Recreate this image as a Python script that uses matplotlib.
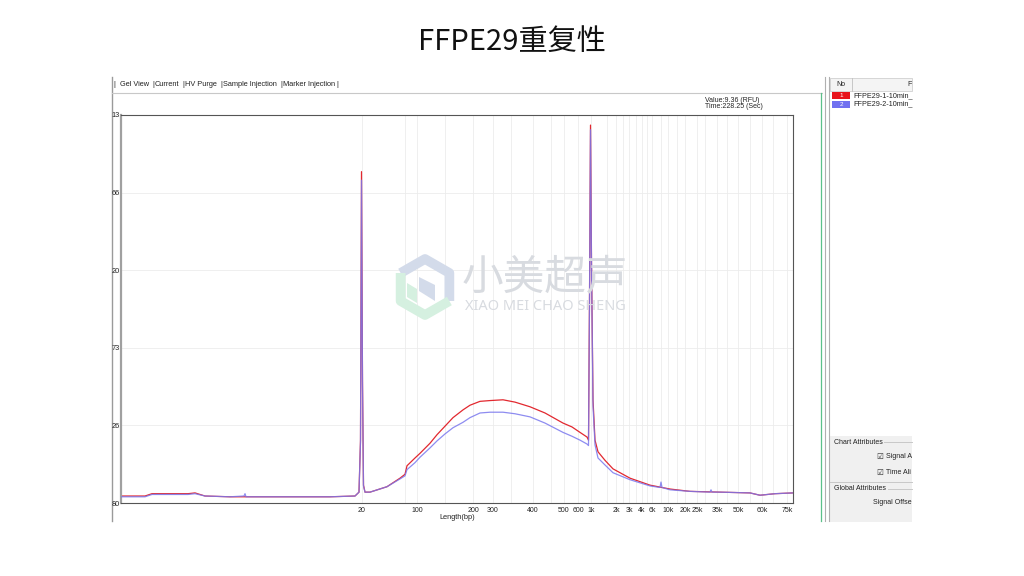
import matplotlib
matplotlib.use('Agg')
import matplotlib.pyplot as plt
from matplotlib.patches import Rectangle, Polygon

# x is migration position along the trace, y is signal in label steps
tick_pos = [241, 296, 352, 372, 412, 443, 457, 470, 495, 508, 521, 531, 547, 564, 576, 596, 617, 641, 666]
tick_labels = ['20', '100', '200', '300', '400', '500', '600', '1k', '2k', '3k', '4k', '6k', '10k',
               '20k', '25k', '35k', '50k', '60k', '75k']
grid_extra = [284, 324, 390, 430, 486, 502, 515, 526, 540, 556, 584, 606, 629, 652]
y_labels = ['80', '26', '73', '20', '66', '13']

red_x = [0, 24, 31, 67, 74, 84, 109, 159, 209, 234, 238, 239.5, 240.5, 241.5, 242.5, 244, 249, 266,
         279, 284, 286, 294, 299, 309, 316, 324, 332, 342, 349, 359, 369, 382, 394, 409, 424, 442, 451,
         459, 466, 467.5, 468.5, 469.5, 470.5, 472, 474, 477, 484, 492, 509, 529, 549, 569, 599, 629,
         639, 654, 672]
red_y = [0.09, 0.09, 0.12, 0.12, 0.13, 0.09, 0.08, 0.08, 0.08, 0.09, 0.14, 0.81, 4.27, 1.58, 0.23, 0.14,
         0.14, 0.21, 0.32, 0.37, 0.48, 0.58, 0.64, 0.77, 0.88, 0.99, 1.10, 1.20, 1.26, 1.31, 1.32, 1.33,
         1.30, 1.24, 1.16, 1.03, 0.98, 0.91, 0.85, 0.81, 2.62, 4.87, 3.13, 1.33, 0.81, 0.66, 0.55, 0.44,
         0.32, 0.23, 0.18, 0.15, 0.14, 0.13, 0.10, 0.12, 0.13]

blue_x = [0, 24, 31, 67, 74, 84, 109, 123, 124, 125, 159, 209, 234, 238, 239.5, 240.5, 241.5, 242.5,
          244, 249, 266, 279, 284, 286, 294, 299, 309, 316, 324, 332, 342, 349, 359, 369, 382, 394, 409,
          424, 442, 451, 459, 466, 467.5, 468.5, 469.5, 470.5, 472, 474, 477, 484, 492, 509, 529, 539,
          540, 541, 549, 569, 589, 590, 591, 599, 629, 639, 654, 672]
blue_y = [0.08, 0.08, 0.11, 0.11, 0.12, 0.09, 0.08, 0.09, 0.12, 0.08, 0.08, 0.08, 0.09, 0.14, 0.78, 4.16,
          1.52, 0.22, 0.14, 0.14, 0.21, 0.31, 0.35, 0.43, 0.52, 0.59, 0.71, 0.80, 0.89, 0.97, 1.04, 1.10,
          1.16, 1.17, 1.17, 1.15, 1.11, 1.03, 0.91, 0.86, 0.81, 0.76, 0.74, 2.55, 4.81, 3.05, 1.25, 0.75,
          0.58, 0.49, 0.39, 0.30, 0.22, 0.20, 0.27, 0.20, 0.17, 0.15, 0.14, 0.17, 0.14, 0.14, 0.13, 0.10,
          0.12, 0.13]

fig = plt.figure(figsize=(10.24, 5.76), dpi=100)
fig.patch.set_facecolor('white')

# background layer in pixel coordinates for the screenshot chrome
bg = fig.add_axes([0, 0, 1, 1], zorder=0)
bg.set_xlim(0, 1024)
bg.set_ylim(576, 0)
bg.axis('off')

fig.text(0.5, 1 - 42 / 576, 'FFPE29重复性', ha='center', va='center', fontsize=21,
         family=['Noto Sans CJK SC', 'DejaVu Sans'], fontweight='light', color='#111111')

ui_font = ['Liberation Sans', 'DejaVu Sans']
bg.plot([112, 112], [77, 521], color='#9a9a9a', lw=1)
bg.plot([112, 822], [93, 93], color='#c8c8c8', lw=0.8)
tabs = [(113, '|'), (120, 'Gel View'), (152, '|'), (155, 'Current'), (182, '|'), (185, 'HV Purge'),
        (220, '|'), (223, 'Sample Injection'), (280, '|'), (283, 'Marker Injection'), (336, '|')]
for tx, lab in tabs:
    bg.text(tx, 85, lab, fontsize=5.3, va='center', ha='left', family=ui_font, color='#222222')
bg.text(705, 100, 'Value:9.36 (RFU)', fontsize=5, va='center', family=ui_font, color='#222222')
bg.text(705, 107, 'Time:228.25 (Sec)', fontsize=5, va='center', family=ui_font, color='#222222')

bg.plot([821, 821], [93, 521], color='#5cc08a', lw=0.9)
bg.plot([825, 825], [77, 521], color='#b0b0b0', lw=0.8)
bg.plot([829, 829], [77, 521], color='#b0b0b0', lw=0.8)
bg.add_patch(Rectangle((830, 78), 82, 13, facecolor='#f4f4f4', edgecolor='#d0d0d0', lw=0.6))
bg.plot([852, 852], [78, 91], color='#c0c0c0', lw=0.6)
bg.text(841, 85, 'No', fontsize=5, va='center', ha='center', family=ui_font, color='#222222')
bg.text(910, 85, 'F', fontsize=5, va='center', ha='center', family=ui_font, color='#222222')
for ry, col, num, name in [(95.5, '#e8141c', '1', 'FFPE29-1-10min_'), (104, '#7070f0', '2', 'FFPE29-2-10min_')]:
    bg.add_patch(Rectangle((832, ry - 3.5), 18, 7, facecolor=col, edgecolor='none'))
    bg.text(841, ry, num, fontsize=4.5, va='center', ha='center', color='white', family=ui_font)
    bg.text(853, ry, name, fontsize=5.2, va='center', ha='left', family=ui_font, color='#222222')

bg.add_patch(Rectangle((830, 436), 82, 86, facecolor='#f0f0f0', edgecolor='none'))
bg.text(834, 442, 'Chart Attributes', fontsize=5, va='center', family=ui_font, color='#222222')
bg.plot([884, 912], [442, 442], color='#c8c8c8', lw=0.7)
bg.text(876, 456, '☑', fontsize=5.5, va='center', family=['DejaVu Sans'], color='#333333')
bg.text(886, 456, 'Signal A', fontsize=5, va='center', family=ui_font, color='#222222')
bg.text(876, 472, '☑', fontsize=5.5, va='center', family=['DejaVu Sans'], color='#333333')
bg.text(886, 472, 'Time Ali', fontsize=5, va='center', family=ui_font, color='#222222')
bg.plot([830, 912], [482, 482], color='#c8c8c8', lw=0.7)
bg.text(834, 489, 'Global Attributes', fontsize=5, va='center', family=ui_font, color='#222222')
bg.plot([888, 912], [489, 489], color='#c8c8c8', lw=0.7)
bg.text(873, 503, 'Signal Offse', fontsize=5, va='center', family=ui_font, color='#222222')

# the electropherogram itself
ax = fig.add_axes([121 / 1024, 1 - 503 / 576, 672 / 1024, 388 / 576], zorder=1)
ax.set_xlim(0, 672)
ax.set_ylim(0, 5)
for gx in tick_pos + grid_extra:
    ax.axvline(gx, color='#ececec', lw=0.6, zorder=0)
for gy in range(1, 5):
    ax.axhline(gy, color='#ececec', lw=0.6, zorder=0)
ax.plot(red_x, red_y, color='#e2282f', lw=0.9, zorder=2)
ax.plot(blue_x, blue_y, color='#7a78ee', lw=0.9, alpha=0.85, zorder=3)

ax.set_xticks(tick_pos)
ax.set_xticklabels(tick_labels, fontsize=5, family=ui_font, color='#222222')
ax.set_yticks(range(6))
ax.set_yticklabels(y_labels, fontsize=5.3, family=ui_font, color='#222222')
ax.tick_params(length=0, pad=3)
ax.tick_params(axis='y', pad=1)
ax.set_xlabel('Length(bp)', fontsize=5.3, family=ui_font, labelpad=-1, color='#222222')
ax.xaxis.set_label_coords((457 - 121) / 672, -0.028)
for side in ['top', 'right', 'bottom']:
    ax.spines[side].set_color('#555555')
    ax.spines[side].set_linewidth(0.8)
ax.spines['left'].set_color('#a0a0a0')
ax.spines['left'].set_linewidth(1.6)

# faint watermark over the plot
wm = fig.add_axes([0, 0, 1, 1], zorder=2)
wm.set_xlim(0, 1024)
wm.set_ylim(576, 0)
wm.axis('off')
wm.patch.set_alpha(0)
hx, hy, r = 425, 287, 28
hexa = [(hx, hy - r), (hx + 0.87 * r, hy - 0.5 * r), (hx + 0.87 * r, hy + 0.5 * r), (hx, hy + r),
        (hx - 0.87 * r, hy + 0.5 * r), (hx - 0.87 * r, hy - 0.5 * r)]
wm.plot([hexa[5][0], hexa[0][0], hexa[1][0], hexa[2][0]], [hexa[5][1], hexa[0][1], hexa[1][1], hexa[2][1]],
        color='#d3dbea', lw=7, solid_capstyle='butt')
wm.plot([hexa[2][0], hexa[3][0], hexa[4][0], hexa[5][0]], [hexa[2][1], hexa[3][1], hexa[4][1], hexa[5][1]],
        color='#d5f0e0', lw=7, solid_capstyle='butt')
wm.add_patch(Polygon([(hx - 6, hy - 10), (hx + 10, hy - 2), (hx + 10, hy + 14), (hx - 6, hy + 4)],
                     closed=True, facecolor='#d3dbea', edgecolor='none'))
wm.add_patch(Polygon([(hx - 18, hy - 4), (hx - 8, hy + 2), (hx - 8, hy + 16), (hx - 18, hy + 10)],
                     closed=True, facecolor='#d5f0e0', edgecolor='none'))
wm.text(545, 278, '小美超声', fontsize=30, ha='center', va='center', color='#d8dbe0',
        family=['Noto Sans CJK SC', 'DejaVu Sans'], fontweight='light')
wm.text(545, 306, 'XIAO MEI CHAO SHENG', fontsize=10.5, ha='center', va='center', color='#d8dbe0',
        family=['Noto Sans', 'DejaVu Sans'])

fig.savefig('out.png', dpi=100, facecolor='white')
